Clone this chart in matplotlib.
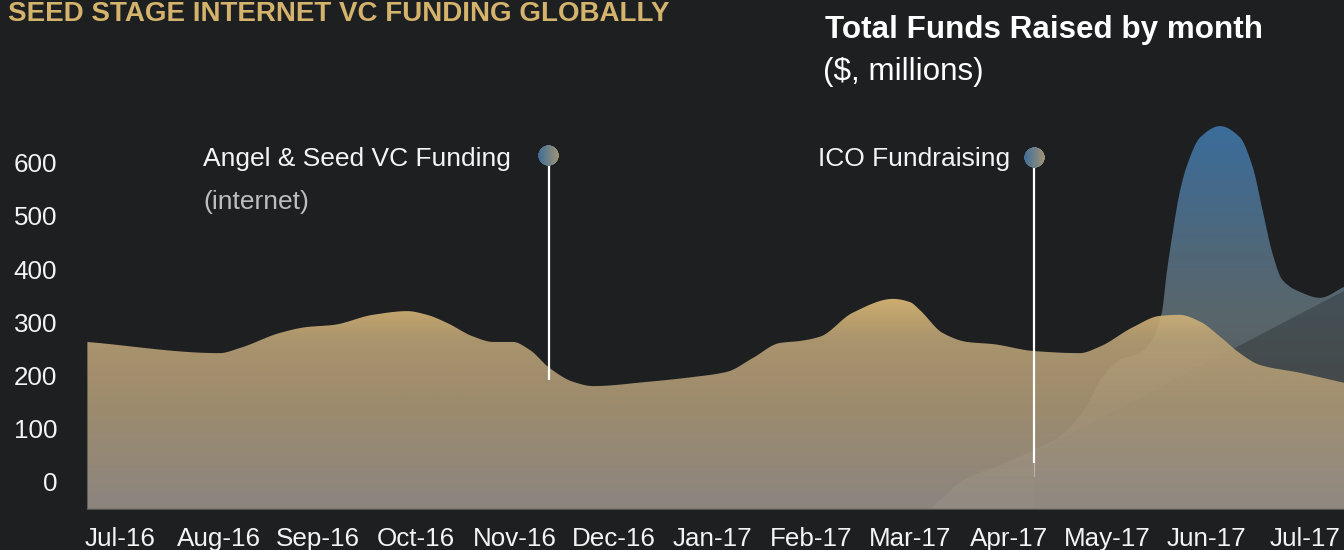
import numpy as np
import matplotlib
matplotlib.use("Agg")
import matplotlib.pyplot as plt
from matplotlib.colors import LinearSegmentedColormap, to_rgb
from matplotlib.offsetbox import OffsetImage, AnnotationBbox

plt.rcParams['font.family'] = ['Liberation Sans', 'DejaVu Sans']

# ---------------------- Data --------------------------
months = ["Jul-16", "Aug-16", "Sep-16", "Oct-16", "Nov-16", "Dec-16", "Jan-17",
          "Feb-17", "Mar-17", "Apr-17", "May-17", "Jun-17", "Jul-17"]
y_ticks = [0, 100, 200, 300, 400, 500, 600]

# Angel & Seed VC funding (internet), $M (x = month index)
seed_x = [-0.33, 1.01, 1.22, 1.62, 1.89, 2.16, 2.56, 2.91, 3.11, 3.31, 3.58, 3.78,
          3.98, 4.15, 4.35, 4.59, 4.79, 5.34, 5.80, 6.15, 6.41, 6.68, 6.89, 7.09,
          7.42, 7.83, 8.00, 8.10, 8.33, 8.58, 8.84, 9.25, 9.72, 9.92, 10.26, 10.53,
          10.73, 10.94, 11.14, 11.34, 11.54, 11.95, 12.40]
seed_val = [263, 242, 252, 280, 291, 295, 314, 321, 314, 299, 273, 263,
            263, 248, 214, 188, 180, 188, 197, 207, 233, 261, 265, 273,
            318, 344, 338, 323, 280, 263, 259, 246, 242, 254, 291, 312,
            314, 301, 273, 242, 220, 205, 186]

# ICO fundraising, $M
ico_x = [8.20, 8.55, 9.00, 9.25, 9.50, 9.75, 9.95, 10.12, 10.33, 10.45, 10.55, 10.60,
         10.66, 10.73, 10.80, 10.94, 11.14, 11.34, 11.47, 11.57, 11.67, 11.77, 11.95,
         12.15, 12.40]
ico_val = [-53, 4, 38, 60, 83, 132, 197, 229, 242, 267, 318, 393,
           468, 543, 592, 648, 669, 648, 592, 511, 430, 380, 357,
           346, 367]

# ICO trend
trend_x = [9.25, 12.40]
trend_val = [55, 361]

# annotation pins
pin_x = [4.34, 9.26]
pin_top = [613, 609]
pin_bottom = [192, 36]
pin_tail = [0, 25]

Y_BOTTOM = -53
BG = "#1e1f21"
W, H = 1344, 550


def pchip(x, y, xs):
    x = np.asarray(x, float)
    y = np.asarray(y, float)
    h = np.diff(x)
    d = np.diff(y) / h
    m = np.zeros_like(y)
    for k in range(1, len(x) - 1):
        if d[k - 1] * d[k] > 0:
            w1 = 2 * h[k] + h[k - 1]
            w2 = h[k] + 2 * h[k - 1]
            m[k] = (w1 + w2) / (w1 / d[k - 1] + w2 / d[k])
    m[0], m[-1] = d[0], d[-1]
    i = np.clip(np.searchsorted(x, xs) - 1, 0, len(h) - 1)
    t = (xs - x[i]) / h[i]
    h00 = 2 * t**3 - 3 * t**2 + 1
    h10 = t**3 - 2 * t**2 + t
    h01 = -2 * t**3 + 3 * t**2
    h11 = t**3 - t**2
    return h00 * y[i] + h10 * h[i] * m[i] + h01 * y[i + 1] + h11 * h[i] * m[i + 1]


def gradient_area(ax, x, y, stops, alpha, z):
    xs = np.linspace(min(x), max(x), 800)
    ys = np.maximum(pchip(x, y, xs), Y_BOTTOM)
    poly = ax.fill_between(xs, Y_BOTTOM, ys, facecolor="none", edgecolor="none")
    cmap = LinearSegmentedColormap.from_list("g", stops)
    grad = np.linspace(0, 1, 256).reshape(-1, 1)
    im = ax.imshow(grad, cmap=cmap, aspect="auto", origin="upper",
                   extent=[xs.min(), xs.max(), Y_BOTTOM, ys.max()],
                   alpha=alpha, zorder=z, interpolation="bilinear")
    im.set_clip_path(poly.get_paths()[0], transform=ax.transData)


def pin_image(c1, c2, n=64):
    yy, xx = np.mgrid[0:n, 0:n]
    r = np.hypot(xx - (n - 1) / 2, yy - (n - 1) / 2)
    a = np.clip(n / 2 - r, 0, 1)
    t = (xx / (n - 1))[..., None]
    rgb = (1 - t) * np.array(to_rgb(c1)) + t * np.array(to_rgb(c2))
    return np.dstack([rgb, a])


fig = plt.figure(figsize=(W / 100, H / 100), dpi=100, facecolor=BG)
ax = fig.add_axes([87 / W, 40 / H, (W - 87) / W, 410 / H])
ax.set_facecolor(BG)

# ICO area (blue) first, then trend shade, then seed area (gold) on top
gradient_area(ax, ico_x, ico_val,
              [(0, "#3e75a7"), (0.32, "#546e82"), (0.5, "#5f6d72"),
               (0.75, "#5e605f"), (1, "#585855")],
              0.92, 2)
ax.fill_between(trend_x, Y_BOTTOM, trend_val, color="#1e2224", alpha=0.33,
                lw=0, zorder=3)
gradient_area(ax, seed_x, seed_val,
              [(0, "#e2be79"), (0.2, "#baa276"), (0.5, "#ac9876"), (1, "#99928b")],
              0.9, 4)
ax.axhline(Y_BOTTOM + 1, color="#55524e", lw=1, zorder=5)

# pins
img = pin_image("#3f6e98", "#a09477")
for x, top, bot, tail in zip(pin_x, pin_top, pin_bottom, pin_tail):
    ax.plot([x, x], [top, bot], color="white", lw=1.6, zorder=6, solid_capstyle="butt")
    if tail:
        ax.plot([x, x], [bot, bot - tail], color="#d8d4cc", lw=0.8, alpha=0.6, zorder=6)
    ab = AnnotationBbox(OffsetImage(img, zoom=15 / 64), (x, top), frameon=False,
                        pad=0, zorder=7)
    ax.add_artist(ab)

ax.set_xlim(-0.334, 12.395)
ax.set_ylim(Y_BOTTOM, 718)
ax.set_xticks(range(len(months)))
ax.set_xticklabels(months)
ax.set_yticks(y_ticks)
ax.tick_params(axis="x", length=0, pad=12, labelsize=18.7, colors="#f4f4f4")
ax.tick_params(axis="y", length=0, pad=21.5, labelsize=18.7, colors="#f4f4f4")
for s in ax.spines.values():
    s.set_visible(False)

# texts
fig.text(8 / W, 1 - 1 / H, "SEED STAGE INTERNET VC FUNDING GLOBALLY", fontsize=20,
         fontweight="bold", color="#d4b46c", va="top")
fig.text(825 / W, 1 - 38 / H, "Total Funds Raised by month", fontsize=22.6,
         fontweight="bold", color="white", va="baseline")
fig.text(823 / W, 1 - 80 / H, "($, millions)", fontsize=22.6, color="white",
         va="baseline")
fig.text(203 / W, 1 - 166 / H, "Angel & Seed VC Funding", fontsize=19,
         color="#f4f4f4", va="baseline")
fig.text(203 / W, 1 - 209 / H, "(internet)", fontsize=19, color="#bdbdbd",
         va="baseline")
fig.text(818 / W, 1 - 166 / H, "ICO Fundraising", fontsize=19, color="#f4f4f4",
         va="baseline")

fig.savefig("out.png", dpi=100, facecolor=BG)
